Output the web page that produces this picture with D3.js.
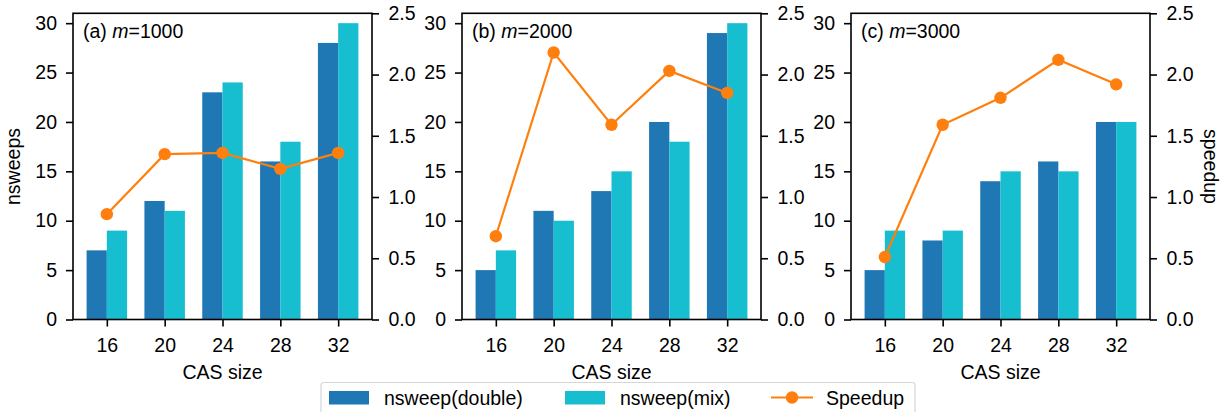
<!DOCTYPE html>
<html><head><meta charset="utf-8">
<script src="https://cdn.jsdelivr.net/npm/d3@7"></script>
<style>
body{margin:0;background:#fff;}
text{font-family:"Liberation Sans",Arial,sans-serif;fill:#000;}
</style></head>
<body><svg id="c" width="1221" height="412"></svg>
<script>
const categories = ["16","20","24","28","32"];
const panelTitles = ["(a) ", "(b) ", "(c) "];
const panelM = ["1000","2000","3000"];
const doubleA = [7,12,23,16,28];
const mixA = [9,11,24,18,30];
const speedA = [0.86,1.35,1.36,1.23,1.36];
const doubleB = [5,11,13,20,29];
const mixB = [7,10,15,18,30];
const speedB = [0.68,2.18,1.59,2.03,1.85];
const doubleC = [5,8,14,16,20];
const mixC = [9,9,15,15,20];
const speedC = [0.51,1.59,1.81,2.12,1.92];
const leftTicks = [0,5,10,15,20,25,30];
const rightTicks = [0,0.5,1.0,1.5,2.0,2.5];
const legendLabels = ["nsweep(double)","nsweep(mix)","Speedup"];
const colors = {double:"#1f77b4", mix:"#17becf", speed:"#ff7f0e"};

const panels = [
  {d:doubleA,m:mixA,s:speedA},
  {d:doubleB,m:mixB,s:speedB},
  {d:doubleC,m:mixC,s:speedC}
];
const lefts = [73, 462, 851];
const W = 299, plotTop = 13.3, plotBottom = 319.5;
const svg = d3.select("#c");
const FS = 19.5;
const TS = 7;

panels.forEach((p,i)=>{
  const x0 = lefts[i];
  const g = svg.append("g");
  const x = d3.scaleLinear().domain([-0.585,4.585]).range([x0,x0+W]);
  const yL = d3.scaleLinear().domain([0,31]).range([plotBottom,plotTop]);
  const yR = d3.scaleLinear().domain([0,2.5]).range([plotBottom,plotTop]);
  const bw = 0.35;
  g.selectAll(".bd").data(p.d).join("rect")
    .attr("x",(v,j)=>x(j-bw)).attr("width",(v,j)=>x(j)-x(j-bw))
    .attr("y",v=>yL(v)).attr("height",v=>yL(0)-yL(v)).attr("fill",colors.double);
  g.selectAll(".bm").data(p.m).join("rect")
    .attr("x",(v,j)=>x(j)).attr("width",(v,j)=>x(j+bw)-x(j))
    .attr("y",v=>yL(v)).attr("height",v=>yL(0)-yL(v)).attr("fill",colors.mix);
  const line = d3.line().x((v,j)=>x(j)).y(v=>yR(v));
  g.append("path").datum(p.s).attr("d",line).attr("fill","none")
    .attr("stroke",colors.speed).attr("stroke-width",2.2);
  g.selectAll(".pt").data(p.s).join("circle")
    .attr("cx",(v,j)=>x(j)).attr("cy",v=>yR(v)).attr("r",6.2).attr("fill",colors.speed);
  const ax = d3.axisBottom(x).tickValues([0,1,2,3,4]).tickFormat(j=>categories[j]).tickSize(TS).tickPadding(12);
  const al = d3.axisLeft(yL).tickValues(leftTicks).tickFormat(d3.format("d")).tickSize(TS).tickPadding(9);
  const ar = d3.axisRight(yR).tickValues(rightTicks).tickFormat(d3.format(".1f")).tickSize(TS).tickPadding(9.5);
  [[ax,`translate(0,${plotBottom})`],[al,`translate(${x0},0)`],[ar,`translate(${x0+W},0)`]].forEach(([a,t])=>{
    const ag = g.append("g").attr("transform",t).call(a);
    ag.select(".domain").remove();
    ag.selectAll("line").attr("stroke","#000").attr("stroke-width",1.6);
    ag.selectAll("text").attr("font-size",FS).attr("font-family","Liberation Sans, Arial, sans-serif").attr("fill","#000");
  });
  g.append("rect").attr("x",x0).attr("y",plotTop).attr("width",W).attr("height",plotBottom-plotTop)
    .attr("fill","none").attr("stroke","#000").attr("stroke-width",1.6);
  const t = g.append("text").attr("x",x0+10).attr("y",37.5).attr("font-size",FS);
  t.append("tspan").text(panelTitles[i]);
  t.append("tspan").attr("font-style","italic").text("m");
  t.append("tspan").text("="+panelM[i]);
  g.append("text").attr("x",x0+W/2).attr("y",379).attr("text-anchor","middle").attr("font-size",FS).text("CAS size");
});
svg.append("text").attr("transform",`translate(20,166.5) rotate(-90)`).attr("text-anchor","middle").attr("font-size",FS).text("nsweeps");
svg.append("text").attr("transform",`translate(1204,166.5) rotate(90)`).attr("text-anchor","middle").attr("font-size",FS).text("speedup");

const lg = svg.append("g");
lg.append("rect").attr("x",321).attr("y",382.5).attr("width",594).attr("height",40).attr("rx",3)
  .attr("fill","#fff").attr("stroke","#d6d6d6").attr("stroke-width",1.2);
const items = [{x:329,type:"bar",c:colors.double},{x:565,type:"bar",c:colors.mix},{x:771,type:"line",c:colors.speed}];
items.forEach((it,k)=>{
  if(it.type==="bar"){
    lg.append("rect").attr("x",it.x).attr("y",391).attr("width",40).attr("height",13.5).attr("fill",it.c);
  } else {
    lg.append("line").attr("x1",it.x).attr("x2",it.x+42).attr("y1",397.5).attr("y2",397.5).attr("stroke",it.c).attr("stroke-width",2.2);
    lg.append("circle").attr("cx",it.x+21).attr("cy",397.5).attr("r",6.2).attr("fill",it.c);
  }
  lg.append("text").attr("x",it.x+55).attr("y",404.5).attr("font-size",FS).text(legendLabels[k]);
});
</script></body></html>
